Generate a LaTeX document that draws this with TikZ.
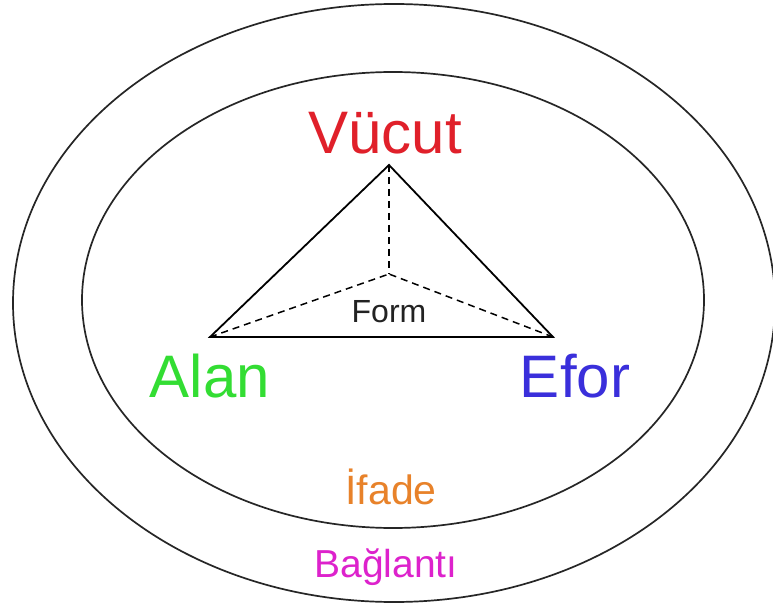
\documentclass[tikz,border=0pt]{standalone}
\usepackage{fontspec}
\setmainfont{Liberation Sans}
\definecolor{cred}{HTML}{E0202A}
\definecolor{cgreen}{HTML}{33DD33}
\definecolor{cblue}{HTML}{3A2FDB}
\definecolor{corange}{HTML}{E8822A}
\definecolor{cmag}{HTML}{DD22CC}
\definecolor{cdark}{HTML}{222222}
\begin{document}
\begin{tikzpicture}[x=1pt,y=-1pt,
  ring/.style={draw=black!85,line width=1.7pt},
  edge/.style={draw=black,line width=1.8pt},
  guide/.style={draw=black,line width=1.5pt,dash pattern=on 7pt off 5pt},
  lbl/.style={anchor=base,inner sep=0pt},
  big/.style={lbl,font=\fontsize{60}{70}\selectfont},
  mid/.style={lbl,font=\fontsize{41}{48}\selectfont},
  small/.style={lbl,font=\fontsize{32}{38}\selectfont}]
\useasboundingbox (0,0) rectangle (773,612);
\fill[white] (0,0) rectangle (773,612);
% rings
\draw[ring] (394,303) ellipse [x radius=381, y radius=299];
\draw[ring] (393,300) ellipse [x radius=311, y radius=228];
% triangle
\coordinate (V) at (389,165);
\coordinate (A) at (210,337);
\coordinate (E) at (553,337);
\coordinate (C) at (389,274);
\draw[guide] (V) -- (C);
\draw[guide] (A) -- (C);
\draw[guide] (E) -- (C);
\draw[edge,line join=miter] (A) -- (V) -- (E) -- cycle;
% labels
\node[big,text=cred] (vucut) at (385,154) {Vücut};
\node[big,text=cgreen] (alan) at (210,397) {Alan};
\node[big,text=cblue] (efor) at (575,397) {Efor};
\node[small,text=cdark] (form) at (389,322) {Form};
\node[mid,text=corange] (ifade) at (391,504) {İfade};
\node[lbl,font=\fontsize{39}{46}\selectfont,text=cmag] (baglanti) at (386,577) {Bağlantı};
\end{tikzpicture}
\end{document}
